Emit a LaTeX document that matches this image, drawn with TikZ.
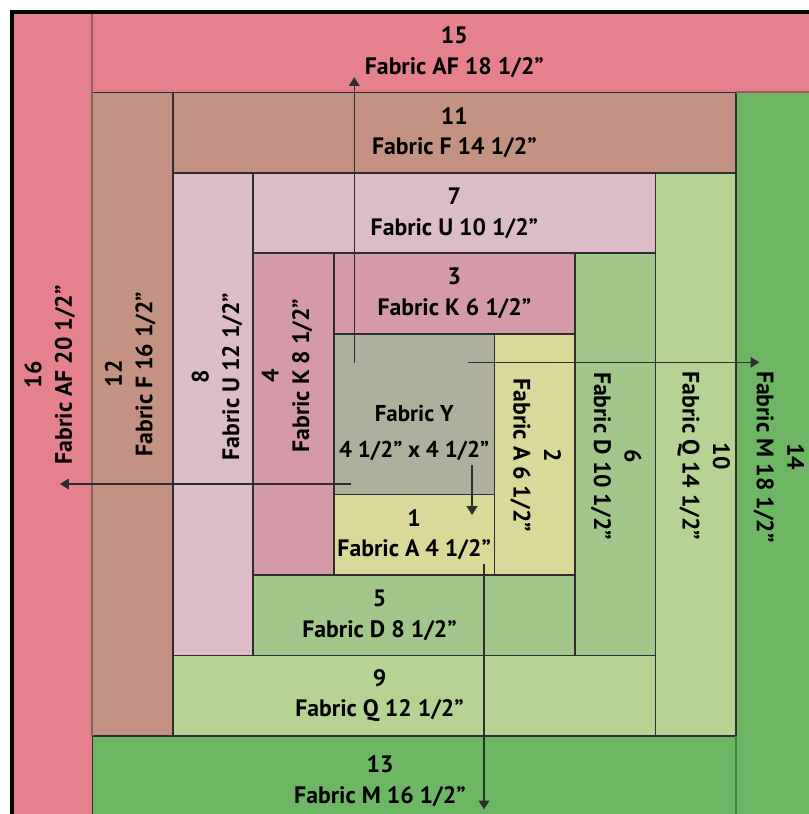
\documentclass[tikz,border=0pt]{standalone}
\usepackage{fontspec}
\setmainfont{PT Sans}
\usepackage{tikz}
\usetikzlibrary{arrows.meta}
\tikzset{>={Triangle[length=3.1pt,width=3.8pt]}}
\definecolor{fabY}{HTML}{AEB09D}
\definecolor{fabA}{HTML}{D9D99A}
\definecolor{fabK}{HTML}{D49AA8}
\definecolor{fabD}{HTML}{A3C68A}
\definecolor{fabU}{HTML}{DCBCC6}
\definecolor{fabQ}{HTML}{B7D394}
\definecolor{fabF}{HTML}{C49282}
\definecolor{fabM}{HTML}{6DB663}
\definecolor{fabAF}{HTML}{E5808D}
\definecolor{seamAF}{HTML}{A05A63}
\definecolor{seamF}{HTML}{89665B}
\definecolor{seamM}{HTML}{4C7F45}
\definecolor{ink}{HTML}{2E2E2E}

\begin{document}
\begin{tikzpicture}[patch/.style={draw=ink,line width=0.6pt},
  soft seam/.style={line width=0.75pt},
  lbl/.style={font=\bfseries\fontsize{8.4}{10.8}\selectfont,align=center,inner sep=0pt},
  cut line/.style={ink,line width=0.4pt},
  scale=1]
\useasboundingbox (-0.149,0.030) rectangle (9.896,10.149);
% strips, round by round
\filldraw[patch,fill=fabY] (4,4) rectangle (6,6); % centre
\filldraw[patch,fill=fabA] (4,3) rectangle (6,4); % 1
\filldraw[patch,fill=fabA] (6,3) rectangle (7,6); % 2
\filldraw[patch,fill=fabK] (4,6) rectangle (7,7); % 3
\filldraw[patch,fill=fabK] (3,3) rectangle (4,7); % 4
\filldraw[patch,fill=fabD] (3,2) rectangle (7,3); % 5
\filldraw[patch,fill=fabD] (7,2) rectangle (8,7); % 6
\filldraw[patch,fill=fabU] (3,7) rectangle (8,8); % 7
\filldraw[patch,fill=fabU] (2,2) rectangle (3,8); % 8
\filldraw[patch,fill=fabQ] (2,1) rectangle (8,2); % 9
\filldraw[patch,fill=fabQ] (8,1) rectangle (9,8); % 10
\filldraw[patch,fill=fabF] (2,8) rectangle (9,9); % 11
\filldraw[patch,fill=fabF] (1,1) rectangle (2,9); % 12
\filldraw[patch,fill=fabM] (1,0) rectangle (9,1); % 13
\filldraw[patch,fill=fabM] (9,0) rectangle (10,9); % 14
\filldraw[patch,fill=fabAF] (1,9) rectangle (10,10); % 15
\filldraw[patch,fill=fabAF] (0,0) rectangle (1,10); % 16
% lighter seams of the last round
\draw[soft seam,seamF] (1,1) -- (1,9);
\draw[soft seam,seamAF] (1,9) -- (1,10);
\draw[soft seam,seamAF] (9,9) -- (10,9);
\draw[soft seam,seamM] (9,0) -- (9,1);
\draw[black,line width=1.1pt] (0,0) rectangle (10,10); % outer edge

% sewing order
\coordinate (up0) at (4.255,5.64);
\coordinate (up1) at (4.255,9.19);
\coordinate (rt0) at (5.673,5.645);
\coordinate (rt1) at (9.29,5.645);
\coordinate (lt0) at (4.21,4.132);
\coordinate (lt1) at (0.597,4.132);
\coordinate (dn0) at (5.719,4.369);
\coordinate (dn1) at (5.719,3.747);
\coordinate (bt0) at (5.868,3.134);
\coordinate (bt1) at (5.868,0.088);
\draw[->,cut line] (up0) -- (up1);
\draw[->,cut line] (rt0) -- (rt1);
\draw[->,cut line] (lt0) -- (lt1);
\draw[->,cut line] (dn0) -- (dn1);
\draw[->,cut line] (bt0) -- (bt1);

% labels
\node (p15) at (5.5,9.5) [lbl] {15\\Fabric AF 18 1/2”};
\node (p11) at (5.5,8.5) [lbl] {11\\Fabric F 14 1/2”};
\node (p7) at (5.5,7.5) [lbl] {7\\Fabric U 10 1/2”};
\node (p3) at (5.5,6.5) [lbl] {3\\Fabric K 6 1/2”};
\node (pY) at (5,4.77) [lbl,font=\bfseries\fontsize{8.1}{12.6}\selectfont] {Fabric Y\\4 1/2” x 4 1/2”};
\node (p1) at (5,3.5) [lbl] {1\\Fabric A 4 1/2”};
\node (p5) at (4.57,2.5) [lbl] {5\\Fabric D 8 1/2”};
\node (p9) at (4.57,1.5) [lbl] {9\\Fabric Q 12 1/2”};
\node (p13) at (4.575,0.44) [lbl] {13\\Fabric M 16 1/2”};
\node (p16) at (0.47,5.49) [lbl,rotate=90] {16\\Fabric AF 20 1/2”};
\node (p12) at (1.47,5.5) [lbl,rotate=90] {12\\Fabric F 16 1/2”};
\node (p8) at (2.55,5.47) [lbl,rotate=90] {8\\Fabric U 12 1/2”};
\node (p4) at (3.42,5.48) [lbl,rotate=90] {4\\Fabric K 8 1/2”};
\node (p2) at (6.51,4.49) [lbl,rotate=-90] {2\\Fabric A 6 1/2”};
\node (p6) at (7.51,4.48) [lbl,rotate=-90] {6\\Fabric D 10 1/2”};
\node (p10) at (8.6,4.48) [lbl,rotate=-90] {10\\Fabric Q 14 1/2”};
\node (p14) at (9.535,4.47) [lbl,rotate=-90] {14\\Fabric M 18 1/2”};
\end{tikzpicture}
\end{document}
